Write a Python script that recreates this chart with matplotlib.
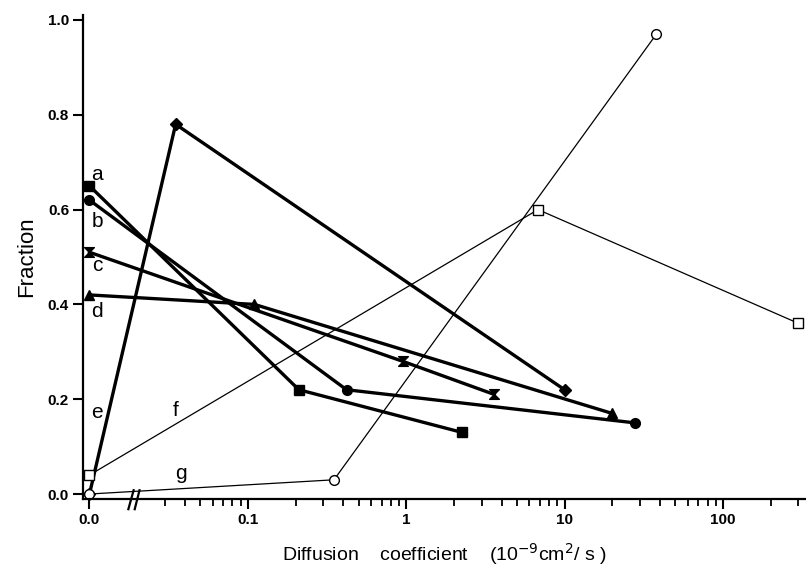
import numpy as np
import matplotlib.pyplot as plt
from matplotlib.path import Path

plt.rcParams['font.family'] = ['Liberation Sans', 'DejaVu Sans']

# "0.0" on the broken axis is drawn at x = 0.01
x_a = [0.01, 0.21, 2.25]
y_a = [0.65, 0.22, 0.13]
x_b = [0.01, 0.42, 28]
y_b = [0.62, 0.22, 0.15]
x_c = [0.01, 0.95, 3.6]
y_c = [0.51, 0.28, 0.21]
x_d = [0.01, 0.11, 20]
y_d = [0.42, 0.40, 0.17]
x_e = [0.01, 0.035, 10]
y_e = [0.0, 0.78, 0.22]
x_f = [0.01, 6.8, 300]
y_f = [0.04, 0.60, 0.36]
x_g = [0.01, 0.35, 38]
y_g = [0.0, 0.03, 0.97]

labels = ['a', 'b', 'c', 'd', 'e', 'f', 'g']
label_x = [0.0112, 0.0112, 0.0112, 0.0112, 0.0112, 0.035, 0.0376]
label_y = [0.675, 0.574, 0.483, 0.384, 0.171, 0.177, 0.044]

xtick_vals = [0.01, 0.1, 1, 10, 100]
xtick_labels = ['0.0', '0.1', '1', '10', '100']
ytick_vals = [0.0, 0.2, 0.4, 0.6, 0.8, 1.0]

hourglass = Path([(-1, 1), (1, 1), (-1, -1), (1, -1), (-1, 1)],
                 [Path.MOVETO, Path.LINETO, Path.LINETO, Path.LINETO, Path.CLOSEPOLY])

fig = plt.figure(figsize=(8.06, 5.77), dpi=100)
ax = fig.add_axes([83 / 806, 78 / 577, 722 / 806, 484 / 577])

thick = dict(color='black', lw=2.4, markersize=7, clip_on=False)
thin = dict(color='black', lw=0.9, markersize=7, markerfacecolor='white',
            markeredgewidth=1.0, clip_on=False)

ax.plot(x_a, y_a, marker='s', **thick)
ax.plot(x_b, y_b, marker='o', **thick)
ax.plot(x_c, y_c, marker=hourglass, **thick)
ax.plot(x_d, y_d, marker='^', **thick)
ax.plot(x_e, y_e, marker='D', **dict(thick, markersize=6))
ax.plot(x_f, y_f, marker='s', **thin)
ax.plot(x_g, y_g, marker='o', **thin)

for lab, lx, ly in zip(labels, label_x, label_y):
    ax.text(lx, ly, lab, fontsize=15, ha='center', va='center')

ax.set_xscale('log')
ax.set_xlim(0.0091, 330)
ax.set_ylim(-0.0105, 1.0105)

ax.set_xticks(xtick_vals)
ax.set_xticklabels(xtick_labels)
minor = []
for dec in [0.01, 0.1, 1, 10, 100]:
    for m in range(2, 10):
        v = dec * m
        if v < 0.025 or v > 330:
            continue
        minor.append(v)
ax.set_xticks(minor, minor=True)
ax.set_xticklabels([], minor=True)
ax.set_yticks(ytick_vals)
ax.set_yticklabels(['%.1f' % v for v in ytick_vals])

ax.spines['top'].set_visible(False)
ax.spines['right'].set_visible(False)
ax.spines['left'].set_linewidth(1.6)
ax.spines['bottom'].set_linewidth(1.6)
ax.tick_params(axis='both', which='major', direction='out', length=7, width=1.5,
               labelsize=11, pad=3)
ax.tick_params(axis='x', which='minor', direction='out', length=5, width=1.3)
for t in ax.get_xticklabels() + ax.get_yticklabels():
    t.set_fontweight('bold')

# axis break marks
bx = 0.0183
for dx in [0, 0.0017]:
    ax.plot([bx + dx - 0.0007, bx + dx + 0.0007], [-0.032, 0.008], color='black', lw=1.6,
            clip_on=False)

ax.set_ylabel('Fraction', fontsize=16, labelpad=8)
ax.set_xlabel('Diffusion    coefficient    (10$^{-9}$cm$^{2}$/ s )', fontsize=14, labelpad=10)

fig.savefig('out.png', dpi=100)
